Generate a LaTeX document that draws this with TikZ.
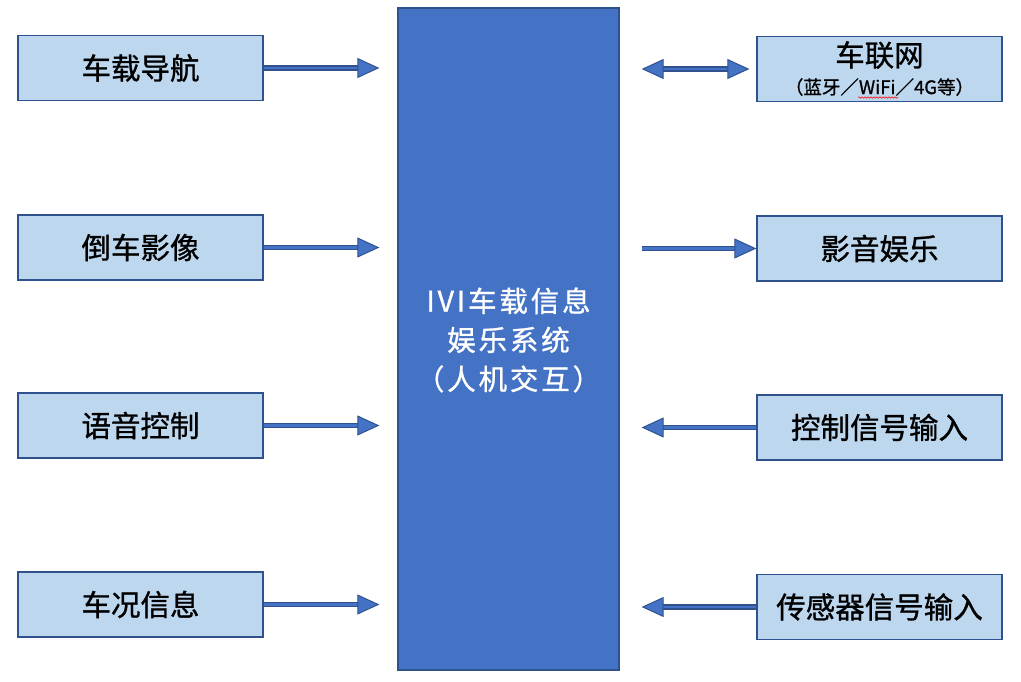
\documentclass[tikz,border=0pt]{standalone}
\usepackage{fontspec}
\setmainfont{Noto Sans CJK SC}[FakeBold=1.0]
\newfontfamily\ctrfont{Noto Sans CJK SC}[FakeBold=1.0,LetterSpace=10]
\usetikzlibrary{arrows.meta,calc,decorations.pathmorphing}
\definecolor{boxfill}{HTML}{BDD7EE}
\definecolor{edge}{HTML}{2F528F}
\definecolor{mid}{HTML}{4472C4}
\tikzset{
  side/.style={draw=edge, line width=1.3pt, fill=boxfill, minimum width=245pt, minimum height=65pt, inner sep=0pt, font=\fontsize{29.5}{32}\selectfont},
  shaft/.style={draw=edge, double=mid, double distance=2.6pt, line width=1.4pt},
  tipr/.style={-{Triangle[length=22pt,width=20pt,fill=mid,line width=1pt]}},
  tipb/.style={{Triangle[length=22pt,width=20pt,fill=mid,line width=1pt]}-{Triangle[length=22pt,width=20pt,fill=mid,line width=1pt]}}
}
\begin{document}
\begin{tikzpicture}[x=1pt,y=-1pt]
\useasboundingbox (0,0) rectangle (1021,682);
\node[draw=edge, line width=1.3pt, fill=mid, minimum width=221pt, minimum height=662pt, inner sep=0pt] (c) at (508.5,339) {};
\node[text=white, align=center, font=\ctrfont\fontsize{28.5}{39}\selectfont] (ct) at (508.5,340) {IVI车载信息\\娱乐系统\\（人机交互）};
% left
\node[side] (nav) at (140.5,68) {车载导航};
\node[side] (rev) at (140.5,247.5) {倒车影像};
\node[side] (voice) at (140.5,425.5) {语音控制};
\node[side] (cond) at (140.5,604.5) {车况信息};
% right
\node[side] (net) at (879.5,69) {};
\node[font=\fontsize{29.5}{32}\selectfont] (netT) at (879.5,55) {车联网};
\node[font=\fontsize{18.5}{20}\selectfont] (netS) at (879.5,87) {（蓝牙／WiFi／4G等）};
\node[side] (av) at (879.5,248.5) {影音娱乐};
\node[side] (ctl) at (879.5,427.5) {控制信号输入};
\node[side] (sen) at (879.5,607) {传感器信号输入};
\coordinate (w1) at (858,97.5);
\coordinate (w2) at (898,97.5);
\draw[red, line width=0.5pt, decorate, decoration={snake, amplitude=0.8pt, segment length=3pt}] (w1) -- (w2);
% arrows left
\foreach \n in {nav,rev,voice,cond}{
  \draw[shaft,tipr,shorten >=18pt] (\n.east) -- (\n.east -| c.west);
}
% arrows right
\draw[shaft,tipb,shorten <=22pt,shorten >=7pt] (net.west -| c.east) -- (net.west);
\draw[shaft,tipr,shorten <=22pt] (av.west -| c.east) -- (av.west);
\draw[shaft,tipr,shorten >=22pt] (ctl.west) -- (ctl.west -| c.east);
\draw[shaft,tipr,shorten >=22pt] (sen.west) -- (sen.west -| c.east);
\end{tikzpicture}
\end{document}
